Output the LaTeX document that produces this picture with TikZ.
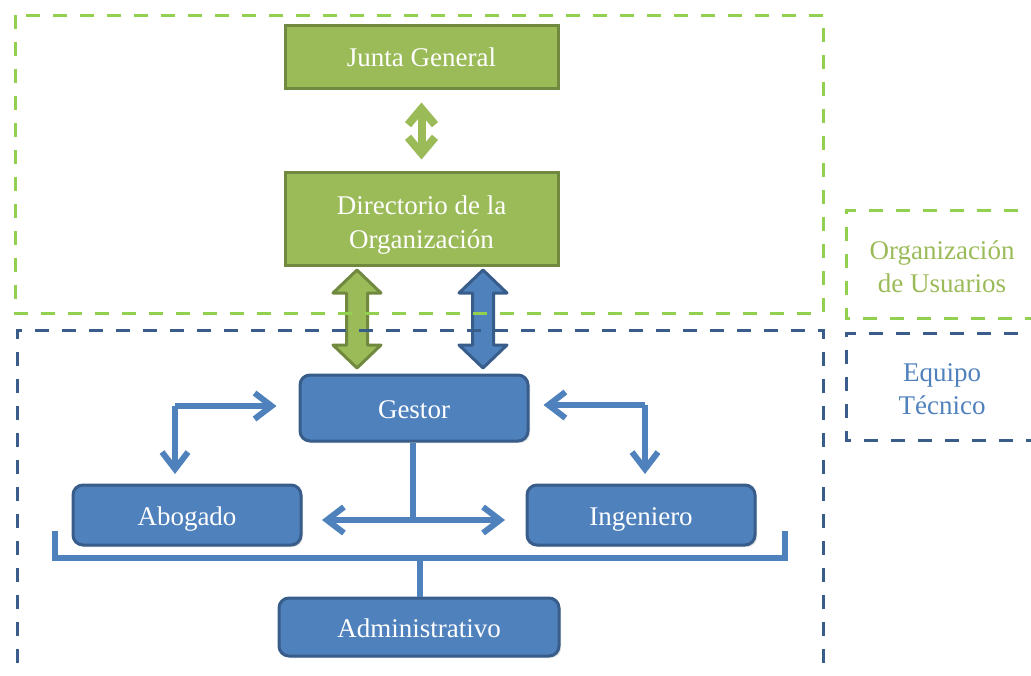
\documentclass[tikz,border=0pt]{standalone}
\usepackage{fontspec}
\setmainfont{Liberation Serif}
\usetikzlibrary{arrows.meta,shadows}
\definecolor{gfill}{HTML}{9BBB59}
\definecolor{gline}{HTML}{71893F}
\definecolor{bfill}{HTML}{4F81BD}
\definecolor{bline}{HTML}{385D8A}
\definecolor{gdash}{HTML}{92D050}
\definecolor{bdash}{HTML}{395D8A}
\tikzset{
  boxfont/.style={font=\fontsize{27}{34}\selectfont},
  gbox/.style={rectangle, fill=gfill, draw=gline, line width=3pt, text=white, align=center,
    boxfont, inner sep=0pt, text height=20pt, text depth=0pt,
    drop shadow={opacity=0.25,shadow xshift=2pt,shadow yshift=-2pt}},
  bbox/.style={rectangle, rounded corners=10pt, fill=bfill, draw=bline, line width=3pt, text=white, align=center,
    boxfont, inner sep=0pt, text height=20pt, text depth=0pt,
    drop shadow={opacity=0.25,shadow xshift=2pt,shadow yshift=-2pt}},
  conn/.style={draw=bfill, line width=6pt},
  barb/.style={-{Straight Barb[length=17pt,width=26pt,line width=6pt]}},
  gdashed/.style={draw=gdash, line width=3pt, dash pattern=on 14pt off 13pt},
  bdashed/.style={draw=bdash, line width=3pt, dash pattern=on 14pt off 13pt},
  lbl/.style={align=center, font=\fontsize{27}{33}\selectfont},
  garrow/.style={fill=gfill, draw=gline, line width=3pt, line join=round},
  barrow/.style={fill=bfill, draw=bline, line width=3pt, line join=round}
}
\begin{document}
\begin{tikzpicture}[x=1pt,y=-1pt]
\useasboundingbox (0,0) rectangle (1031,675);

% nodes
\node[gbox, minimum width=273pt, minimum height=63pt] (junta) at (421.5,56.5) {Junta General};
\node[gbox, minimum width=273pt, minimum height=93pt, text height=, text depth=] (dir) at (421.5,218.5)
  {\raisebox{-12pt}[0pt][0pt]{\begin{tabular}{@{}c@{}}Directorio de la\\Organización\end{tabular}}};
\node[bbox, minimum width=228pt, minimum height=66pt] (gestor) at (414,408) {Gestor};
\node[bbox, minimum width=228pt, minimum height=60pt] (abog) at (187,515) {Abogado};
\node[bbox, minimum width=228pt, minimum height=60pt] (ing) at (641,515) {Ingeniero};
\node[bbox, minimum width=280pt, minimum height=58pt] (admin) at (419,627) {Administrativo};

% thin green double arrow
\draw[draw=gfill, line width=8pt,
  {Straight Barb[length=16pt,width=27pt,line width=8pt]}-{Straight Barb[length=16pt,width=27pt,line width=8pt]}]
  ([yshift=-13pt]junta.south) -- ([yshift=11pt]dir.north);

% block arrows
\path[garrow] (357,270) -- (381,293) -- (367.5,293) -- (367.5,345) -- (381,345) -- (357,368)
  -- (333,345) -- (346.5,345) -- (346.5,293) -- (333,293) -- cycle;
\path[barrow] (483,270) -- (507,293) -- (493.5,293) -- (493.5,345) -- (507,345) -- (483,368)
  -- (459,345) -- (472.5,345) -- (472.5,293) -- (459,293) -- cycle;

% elbow arrows
\coordinate (lc) at (175,406);
\coordinate (rc) at (645,405);
\draw[conn, barb] (lc) -- ([xshift=-22pt]gestor.west |- lc);
\draw[conn, barb] (lc) -- (lc |- 0,474);
\draw[conn, barb] (rc) -- ([xshift=14pt]gestor.east |- rc);
\draw[conn, barb] (rc) -- (rc |- 0,474);

% gestor to abogado/ingeniero
\coordinate (gj) at (413,520);
\draw[conn] (gestor.south -| gj) -- (gj);
\draw[conn, barb] (gj) -- (322,520);
\draw[conn, barb] (gj) -- (505,520);

% bracket to administrativo
\coordinate (bl) at (55,531);
\coordinate (br) at (785,531);
\coordinate (bm) at (420,558);
\draw[conn, line join=miter] (bl) -- (bl |- bm) -- (br |- bm) -- (br);
\draw[conn] (bm) -- (admin.north -| bm);

% dashed regions
\draw[gdashed] (15,15) rectangle (823,313);
\draw[bdashed] (17,690) -- (17,330) -- (823,330) -- (823,690);
\draw[gdashed] (1045,210) -- (846,210) -- (846,318) -- (1045,318);
\draw[bdashed] (1045,333) -- (846,333) -- (846,440) -- (1045,440);

% labels
\node[lbl, text=gfill] (lorg) at (942,267) {Organización\\de Usuarios};
\node[lbl, text=bfill] (leq) at (942,389) {Equipo\\Técnico};
\end{tikzpicture}
\end{document}
